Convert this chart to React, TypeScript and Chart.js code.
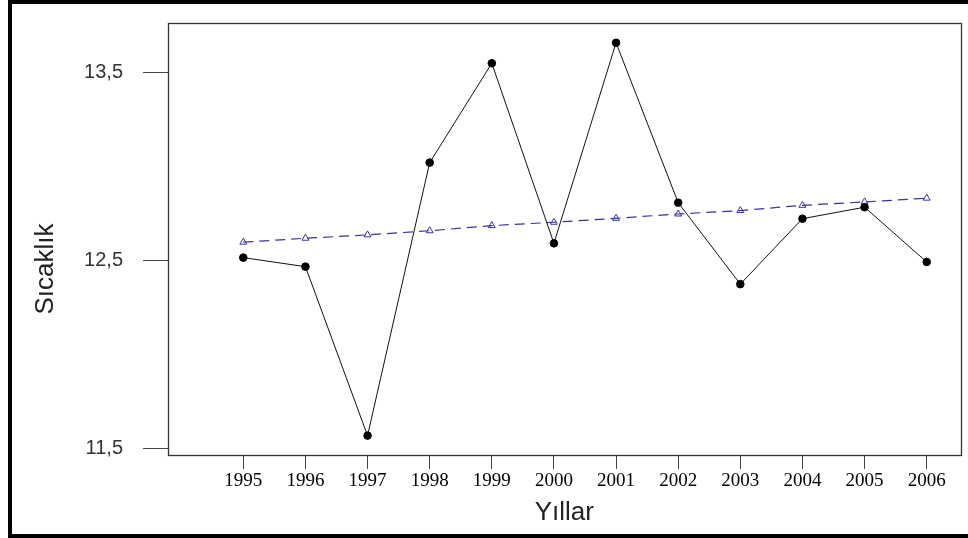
import React, { useEffect, useRef } from "react";
import { Chart, registerables } from "chart.js";

Chart.register(...registerables);

const years = [1995, 1996, 1997, 1998, 1999, 2000, 2001, 2002, 2003, 2004, 2005, 2006];
const temperatures = [12.517, 12.469, 11.571, 13.022, 13.55, 12.593, 13.659, 12.809, 12.376, 12.724, 12.785, 12.494];
const trendValues = [12.599, 12.62, 12.638, 12.66, 12.687, 12.705, 12.726, 12.749, 12.767, 12.795, 12.813, 12.833];
const yTickValues = [11.5, 12.5, 13.5];
const xTitle = "Yıllar";
const yTitle = "Sıcaklık";

const W = 968;
const H = 538;

const framePlugin = {
  id: "framePlugin",
  beforeDraw(chart: any) {
    const ctx = chart.ctx;
    ctx.save();
    ctx.fillStyle = "#ffffff";
    ctx.fillRect(0, 0, chart.width, chart.height);
    ctx.restore();
  },
  afterDraw(chart: any) {
    const ctx = chart.ctx;
    const a = chart.chartArea;
    ctx.save();
    // outer black frame
    ctx.fillStyle = "#000000";
    ctx.fillRect(8, 0, W - 8, 4);
    ctx.fillRect(8, 0, 4, H);
    ctx.fillRect(8, H - 4, W - 8, 4);
    // plot box
    ctx.strokeStyle = "#333333";
    ctx.lineWidth = 1.3;
    ctx.strokeRect(Math.round(a.left) + 0.5, Math.round(a.top) + 0.5, Math.round(a.right - a.left), Math.round(a.bottom - a.top));
    // y title
    ctx.fillStyle = "#222222";
    ctx.font = "26px 'Liberation Sans', Arial, sans-serif";
    ctx.textAlign = "center";
    ctx.textBaseline = "middle";
    ctx.translate(46, 269);
    ctx.rotate(-Math.PI / 2);
    ctx.fillText(yTitle, 0, 0);
    ctx.restore();
  },
};

export default function App() {
  const ref = useRef<HTMLCanvasElement | null>(null);

  useEffect(() => {
    if (!ref.current) return;
    const chart = new Chart(ref.current, {
      type: "line",
      data: {
        datasets: [
          {
            label: "Sıcaklık",
            data: years.map((x, i) => ({ x, y: temperatures[i] })),
            borderColor: "#111111",
            borderWidth: 1,
            pointRadius: 3.8,
            pointBackgroundColor: "#000000",
            pointBorderColor: "#000000",
            pointStyle: "circle",
            tension: 0,
            order: 1,
          },
          {
            label: "Trend",
            data: years.map((x, i) => ({ x, y: trendValues[i] })),
            borderColor: "#35359a",
            borderWidth: 1.2,
            borderDash: [10, 6],
            pointRadius: 4,
            pointStyle: "triangle",
            pointBackgroundColor: "rgba(255,255,255,0)",
            pointBorderColor: "#35359a",
            pointBorderWidth: 1,
            tension: 0,
            order: 2,
          },
        ],
      },
      options: {
        responsive: false,
        animation: false,
        devicePixelRatio: 1,
        layout: { padding: { left: 0, top: 23, right: 7.5, bottom: 0 } },
        plugins: {
          legend: { display: false },
          tooltip: { enabled: false },
        },
        scales: {
          x: {
            type: "linear",
            min: 1993.788,
            max: 2006.544,
            afterFit: (s: any) => {
              s.height = 83;
              s.paddingLeft = 0;
              s.paddingRight = 0;
            },
            afterBuildTicks: (s: any) => {
              s.ticks = years.map((v) => ({ value: v }));
            },
            grid: {
              display: true,
              drawOnChartArea: false,
              drawTicks: true,
              tickLength: 14,
              color: "#444444",
            },
            border: { display: false },
            ticks: {
              color: "#000000",
              padding: 1,
              maxRotation: 0,
              autoSkip: false,
              font: { family: "'Liberation Serif', 'Times New Roman', serif", size: 19 },
              callback: (v: any) => String(v),
            },
            title: {
              display: true,
              text: xTitle,
              color: "#222222",
              font: { family: "'Liberation Sans', Arial, sans-serif", size: 26 },
              padding: { top: 0, bottom: 10 },
            },
          },
          y: {
            type: "linear",
            min: 11.468,
            max: 13.764,
            afterFit: (s: any) => {
              s.width = 168;
              s.paddingTop = 0;
              s.paddingBottom = 0;
            },
            afterBuildTicks: (s: any) => {
              s.ticks = yTickValues.map((v) => ({ value: v }));
            },
            grid: {
              display: true,
              drawOnChartArea: false,
              drawTicks: true,
              tickLength: 25,
              color: "#444444",
            },
            border: { display: false },
            ticks: {
              color: "#333333",
              padding: 20,
              font: { family: "'Liberation Sans', Arial, sans-serif", size: 20 },
              callback: (v: any) => Number(v).toFixed(1).replace(".", ","),
            },
            title: { display: false },
          },
        },
      },
      plugins: [framePlugin],
    });
    return () => chart.destroy();
  }, []);

  return (
    <div style={{ position: "fixed", left: 0, top: 0, width: W, height: H, background: "#fff" }}>
      <canvas ref={ref} width={W} height={H} style={{ display: "block", width: W, height: H }} />
    </div>
  );
}
